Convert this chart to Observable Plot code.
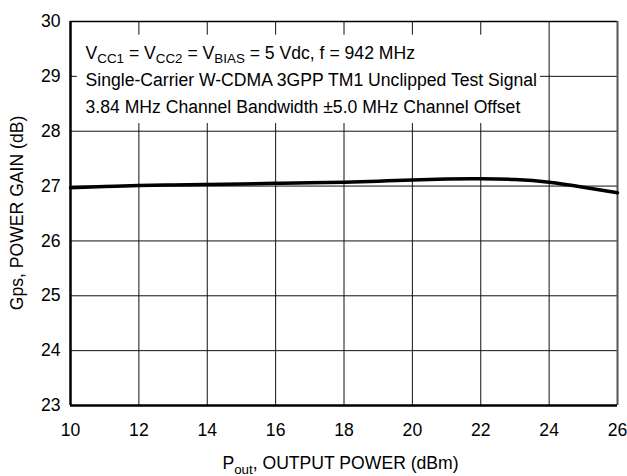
<!DOCTYPE html>
<html>
<head>
<meta charset="utf-8">
<script src="https://cdn.jsdelivr.net/npm/d3@7"></script>
<script src="https://cdn.jsdelivr.net/npm/@observablehq/plot@0.6"></script>
<style>
  html, body { margin: 0; padding: 0; background: #fff; }
  #chart { width: 627px; height: 476px; }
  #chart svg { font-family: "Liberation Sans", Arial, Helvetica, sans-serif; }
</style>
</head>
<body>
<div id="chart"></div>
<script>
// ---- data ----
const poutDbm = [10, 11, 12, 13, 14, 15, 16, 17, 18, 19, 20, 21, 22, 23, 24, 25, 26];
const gainDb  = [26.97, 26.99, 27.01, 27.02, 27.03, 27.04, 27.05, 27.06, 27.07, 27.09, 27.11, 27.13, 27.135, 27.12, 27.07, 26.98, 26.88];
const xTicks = [10, 12, 14, 16, 18, 20, 22, 24, 26];
const yTicks = [23, 24, 25, 26, 27, 28, 29, 30];
const xTitle = "P_{out}, OUTPUT POWER (dBm)";
const yTitle = "Gps, POWER GAIN (dB)";
const noteLines = [
  "V_{CC1} = V_{CC2} = V_{BIAS} = 5 Vdc, f = 942 MHz",
  "Single-Carrier W-CDMA 3GPP TM1 Unclipped Test Signal",
  "3.84 MHz Channel Bandwidth \u00B15.0 MHz Channel Offset"
];

// ---- layout (not data) ----
const FS = 17.6;
const noteX = 10.44;
const noteYs = [29.424, 28.93, 28.437];
const noteBox = [{x1: 10.2, x2: 23.75, y1: 28.14, y2: 29.75}];

const points = poutDbm.map((x, i) => ({x, y: gainDb[i]}));
const plain = s => s.replace(/_\{([^}]*)\}/g, "$1");
const notes = noteLines.map((t, i) => ({x: noteX, y: noteYs[i], t: plain(t)}));

const chart = Plot.plot({
  width: 627,
  height: 476,
  marginLeft: 70,
  marginRight: 10,
  marginTop: 21,
  marginBottom: 71,
  style: {fontSize: FS + "px", fontFamily: "'Liberation Sans', Arial, sans-serif", color: "#000", background: "#fff"},
  x: {domain: [10, 26]},
  y: {domain: [23, 30]},
  marks: [
    Plot.gridX(xTicks, {stroke: "#111", strokeOpacity: 1, strokeWidth: 1}),
    Plot.gridY(yTicks, {stroke: "#111", strokeOpacity: 1, strokeWidth: 1}),
    Plot.rect(noteBox, {x1: "x1", x2: "x2", y1: "y1", y2: "y2", fill: "#fff"}),
    Plot.ruleY([30], {stroke: "#000", strokeWidth: 1.5}),
    Plot.ruleX([26], {stroke: "#555", strokeWidth: 2}),
    Plot.ruleX([10], {stroke: "#000", strokeWidth: 2.5}),
    Plot.ruleY([23], {stroke: "#000", strokeWidth: 2.5}),
    Plot.line(points, {x: "x", y: "y", stroke: "#000", strokeWidth: 3.5, curve: "natural"}),
    Plot.text(notes, {x: "x", y: "y", text: "t", textAnchor: "start", lineAnchor: "middle", fontSize: FS, fill: "#000"}),
    Plot.axisX(xTicks, {tickSize: 0, tickPadding: 18, fontSize: FS, label: null, tickFormat: d => String(d)}),
    Plot.axisY(yTicks, {tickSize: 0, tickPadding: 10, fontSize: FS, label: null, tickFormat: d => String(d)})
  ]
});

document.getElementById("chart").appendChild(chart);

// render text with subscripts
function fillRich(textEl, src, size) {
  const sel = d3.select(textEl);
  sel.text(null);
  const parts = src.split(/(_\{[^}]*\})/).filter(p => p.length);
  let shifted = false;
  const shift = size * 0.26;
  for (const p of parts) {
    const m = p.match(/^_\{([^}]*)\}$/);
    const ts = sel.append("tspan");
    if (m) {
      ts.text(m[1]).attr("font-size", size * 0.76).attr("dy", shifted ? 0 : shift);
      shifted = true;
    } else {
      ts.text(p).attr("dy", shifted ? -shift : 0);
      shifted = false;
    }
  }
}

const svg = d3.select(chart);
svg.selectAll('g[aria-label="text"] text').each(function(_, i) {
  fillRich(this, noteLines[i], FS);
});

const xs = chart.scale("x"), ys = chart.scale("y");
const cx = (xs.range[0] + xs.range[1]) / 2;
const cy = (ys.range[0] + ys.range[1]) / 2;

const xt = svg.append("text")
  .attr("x", cx - 3).attr("y", ys.range[0] + 64)
  .attr("text-anchor", "middle").attr("font-size", FS).attr("fill", "#000");
fillRich(xt.node(), xTitle, FS);

svg.append("text")
  .attr("transform", `translate(${xs.range[0] - 47.5},${cy}) rotate(-90)`)
  .attr("text-anchor", "middle").attr("font-size", FS).attr("fill", "#000")
  .text(yTitle);
</script>
</body>
</html>
